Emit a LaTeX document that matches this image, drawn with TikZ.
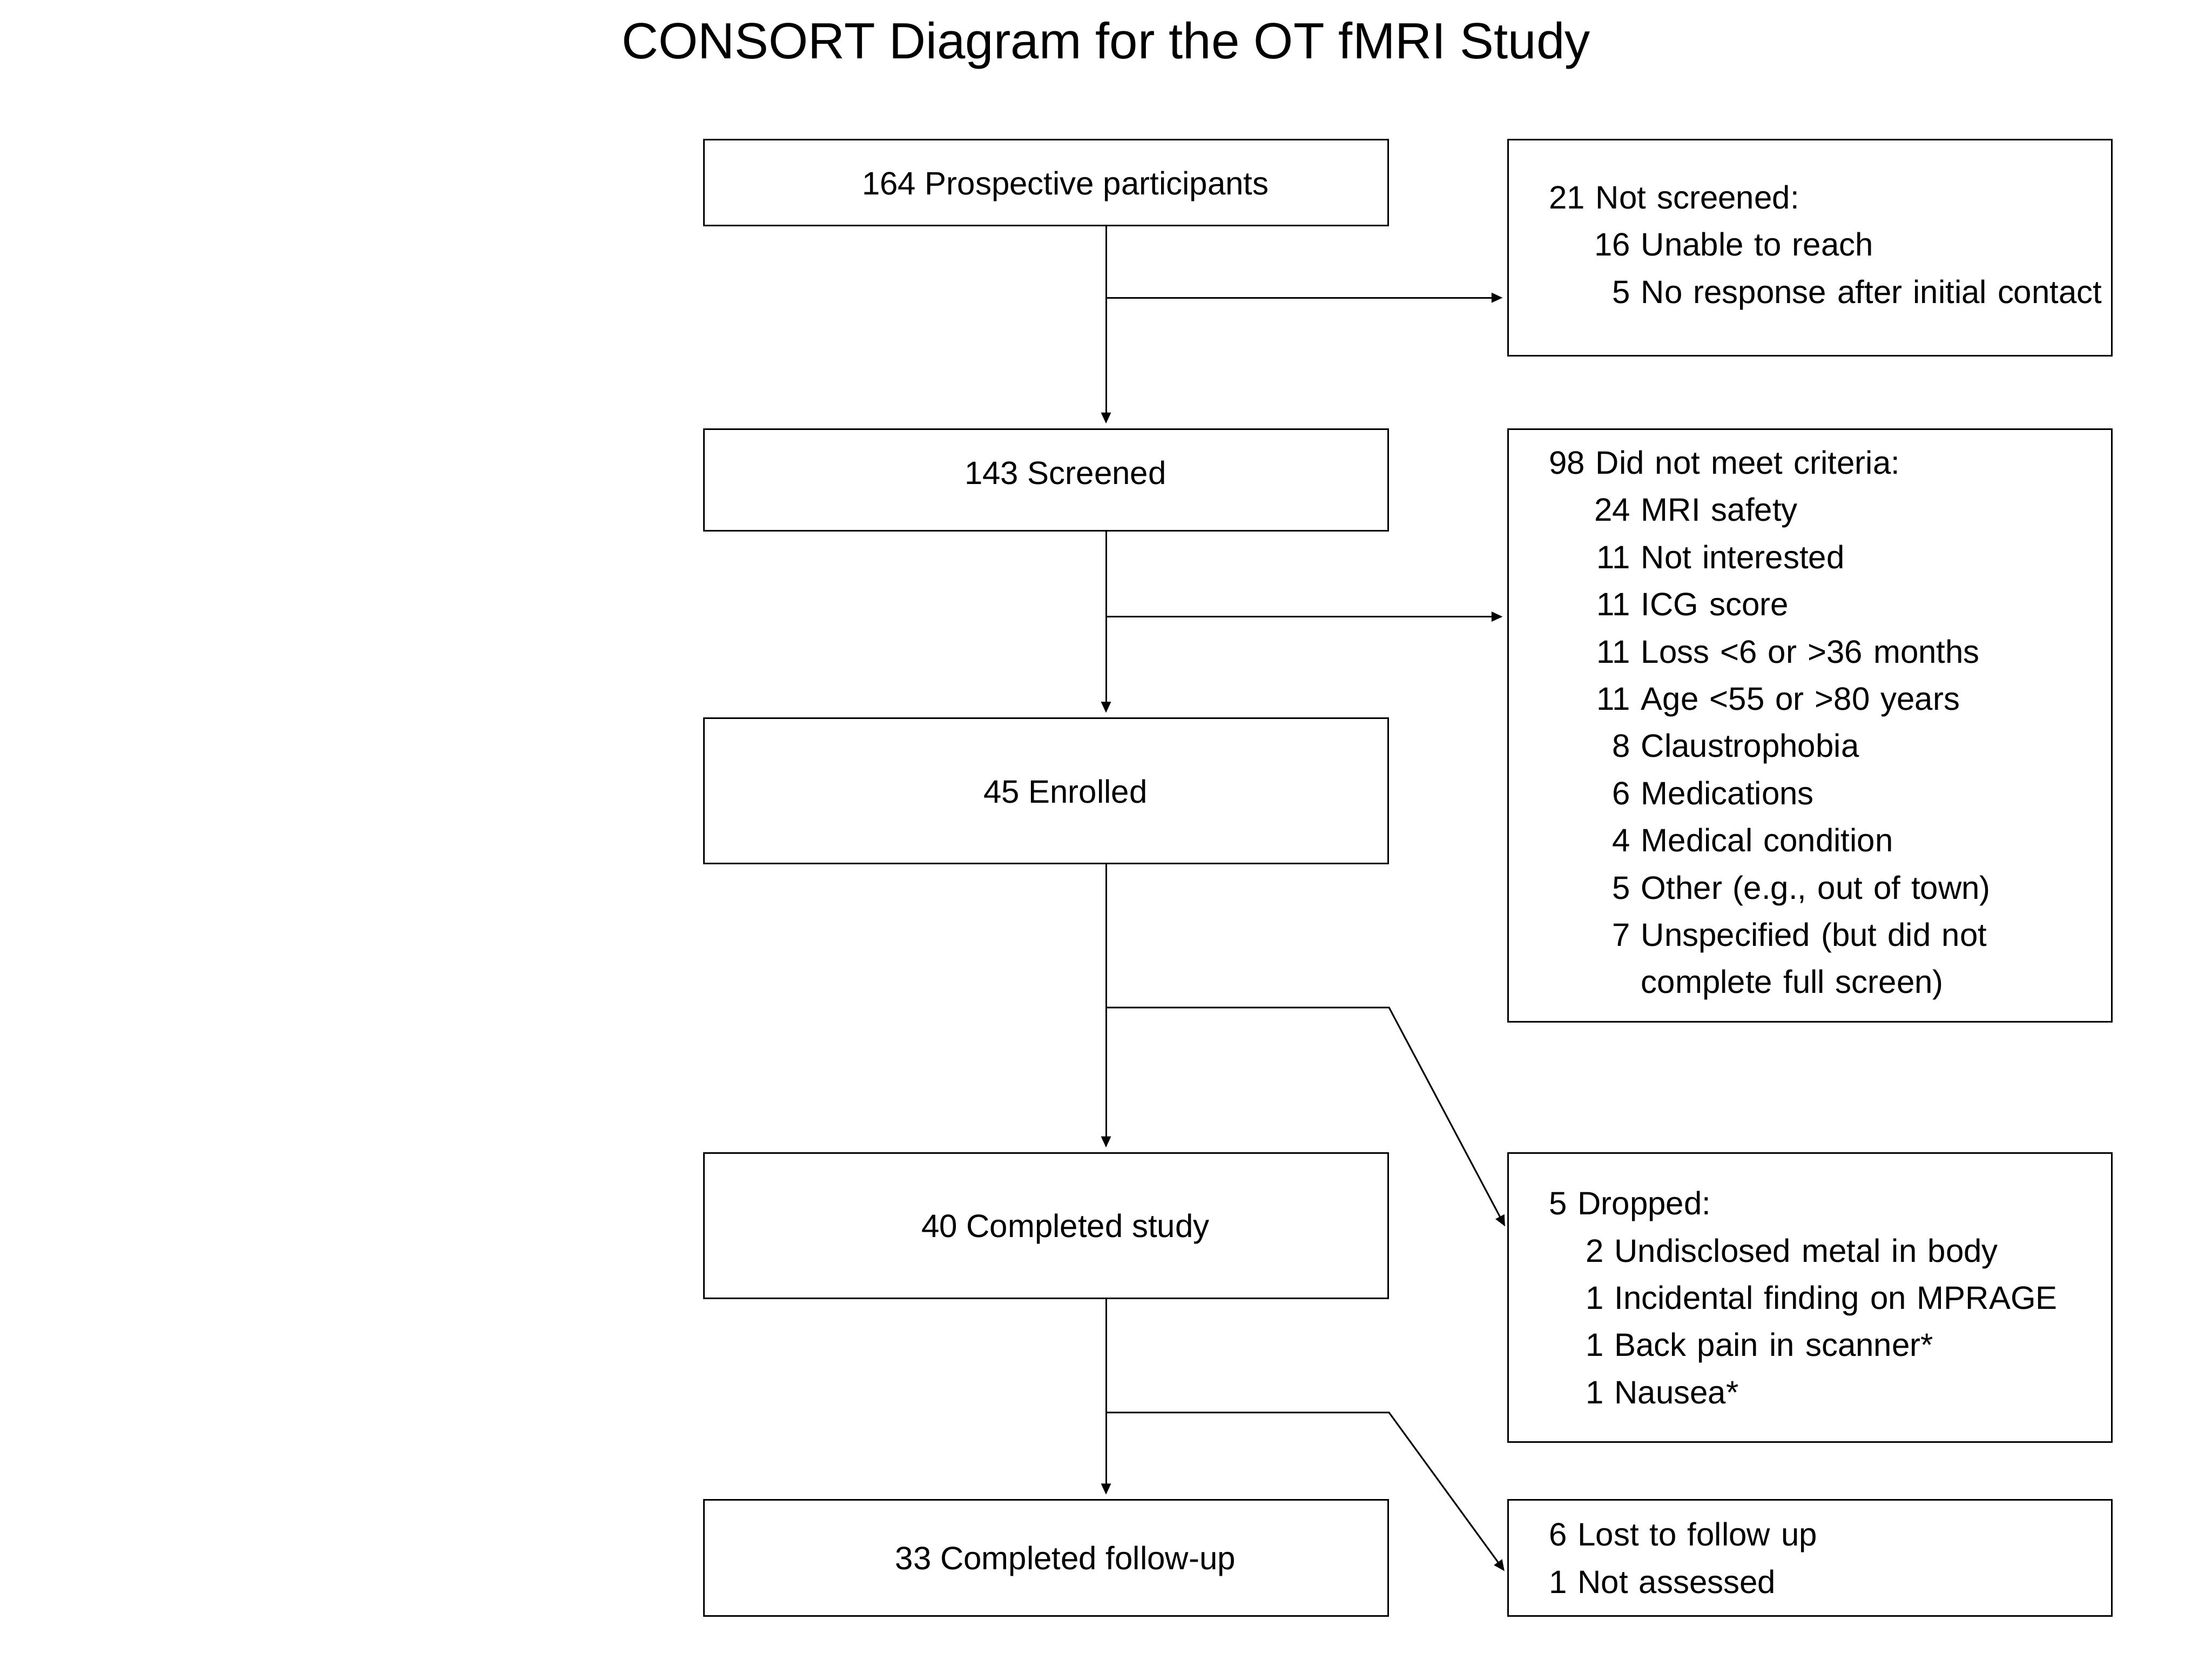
\documentclass[tikz,border=0pt]{standalone}
\usepackage{fontspec}
\setmainfont{Liberation Sans}
\usetikzlibrary{arrows.meta}
\newlength{\rindent}
\setlength{\rindent}{0.883cm}
\newcommand{\reason}[3][\rindent]{\mbox{\makebox[#1][r]{#2} #3}}

\begin{document}
\begin{tikzpicture}[x=0.015306cm,y=-0.015306cm,
        every node/.style={font=\fontsize{10}{14.57}\selectfont},
        lbox/.style={draw,line width=0.5pt,minimum width=7.424cm,inner sep=0pt,
            text height=7.3pt,text depth=0pt,
            execute at begin node={\hspace*{0.42cm}}},
        rbox/.style={draw,line width=0.5pt,text width=5.663cm,inner xsep=0.444cm,
            inner ysep=0pt,align=left},
        flow/.style={line width=0.5pt,-{Triangle[length=1.2mm,width=1.05mm]},shorten >=0.5mm}]
        \useasboundingbox (0,0) rectangle (1568,1176);

        \node[anchor=base,font=\fontsize{15.7}{18}\selectfont] (title) at (784,41.5) {CONSORT Diagram for the OT fMRI Study};

        \node[lbox,minimum height=0.934cm] (prosp) at (741.5,129.5) {164 Prospective participants};
        \node[lbox,minimum height=1.102cm,text depth=4.4pt] (screen) at (741.5,340) {143 Screened};
        \node[lbox,minimum height=1.577cm] (enrol) at (741.5,560.5) {45 Enrolled};
        \node[lbox,minimum height=1.577cm] (done) at (741.5,868.5) {40 Completed study};
        \node[lbox,minimum height=1.255cm] (follow) at (741.5,1104) {33 Completed follow-up};

        \node[rbox,minimum height=2.342cm] (notscr) at (1283,175.5) {21 Not screened:\\
            \reason{16}{Unable to reach}\\
            \reason{5}{No response after initial contact}};
        \node[rbox,minimum height=6.429cm] (excl) at (1283,514) {98 Did not meet criteria:\\
            \reason{24}{MRI safety}\\
            \reason{11}{Not interested}\\
            \reason{11}{ICG score}\\
            \reason{11}{Loss <6 or >36 months}\\
            \reason{11}{Age <55 or >80 years}\\
            \reason{8}{Claustrophobia}\\
            \reason{6}{Medications}\\
            \reason{4}{Medical condition}\\
            \reason{5}{Other (e.g., out of town)}\\
            \reason{7}{Unspecified (but did not}\\
            \reason{}{complete full screen)}};
        \node[rbox,minimum height=3.138cm] (drop) at (1283,919.5) {5 Dropped:\\
            \reason[0.594cm]{2}{Undisclosed metal in body}\\
            \reason[0.594cm]{1}{Incidental finding on MPRAGE}\\
            \reason[0.594cm]{1}{Back pain in scanner*}\\
            \reason[0.594cm]{1}{Nausea*}};
        \node[rbox,minimum height=1.255cm] (lost) at (1283,1104) {6 Lost to follow up\\
            1 Not assessed};

        \coordinate (b1) at (784,211);
        \coordinate (b2) at (784,437);
        \coordinate (b3) at (784,714);
        \coordinate (b4) at (784,1001);

        \draw[flow] (prosp.south -| b1) -- (screen.north -| b1);
        \draw[flow] (b1) -- (notscr.west |- b1);
        \draw[flow] (screen.south -| b2) -- (enrol.north -| b2);
        \draw[flow] (b2) -- (excl.west |- b2);
        \draw[flow] (enrol.south -| b3) -- (done.north -| b3);
        \draw[flow] (b3) -- (b3 -| enrol.east) -- ([yshift=0.727cm]drop.west);
        \draw[flow] (done.south -| b4) -- (follow.north -| b4);
        \draw[flow] (b4) -- (b4 -| done.east) -- ([yshift=-0.184cm]lost.west);
\end{tikzpicture}
\end{document}
